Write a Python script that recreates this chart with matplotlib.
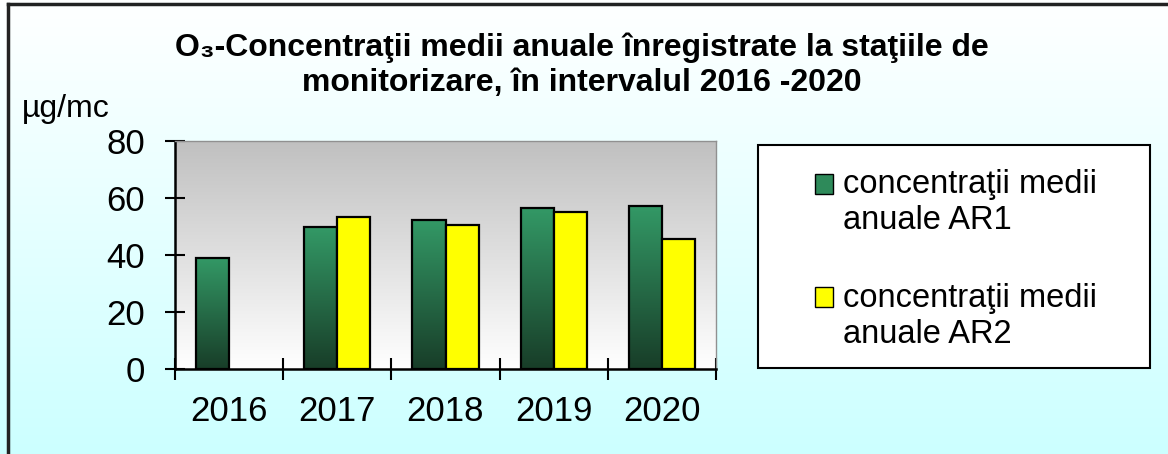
import matplotlib.pyplot as plt
import numpy as np
from matplotlib.colors import LinearSegmentedColormap
from matplotlib.legend_handler import HandlerPatch
from matplotlib.lines import Line2D
from matplotlib.patches import Patch, Rectangle

plt.rcParams['font.family'] = ['Liberation Sans', 'DejaVu Sans']

# date
years = ['2016', '2017', '2018', '2019', '2020']
ar1 = [39.1, 49.8, 52.4, 56.5, 57.3]
ar2 = [np.nan, 53.2, 50.6, 55.1, 45.7]
labels = ['concentraţii medii\nanuale AR1', 'concentraţii medii\nanuale AR2']
title = 'O₃-Concentraţii medii anuale înregistrate la staţiile de\nmonitorizare, în intervalul 2016 -2020'

green_top = '#339966'
green_bot = '#183d28'
yellow = '#ffff00'

fig = plt.figure(figsize=(11.68, 4.54), dpi=100)

# fundal figura (alb -> cyan deschis)
bg = fig.add_axes([0, 0, 1, 1])
bg.imshow(np.linspace(0, 1, 256).reshape(-1, 1), aspect='auto', extent=[0, 1, 0, 1],
          cmap=LinearSegmentedColormap.from_list('bg', ['#ffffff', '#ccffff']))
bg.axis('off')

# chenar figura (doar stanga si sus)
fig.add_artist(Line2D([8 / 1168, 8 / 1168], [0, 1 - 4 / 454], transform=fig.transFigure,
                      color='#222222', lw=2.5))
fig.add_artist(Line2D([8 / 1168, 1], [1 - 4 / 454, 1 - 4 / 454], transform=fig.transFigure,
                      color='#222222', lw=2.5))

ax = fig.add_axes([175 / 1168, 1 - 369 / 454, (716 - 175) / 1168, (369 - 141) / 454])
ax.imshow(np.linspace(0, 1, 256).reshape(-1, 1), aspect='auto', extent=[0, 1, 0, 1],
          transform=ax.transAxes, zorder=0,
          cmap=LinearSegmentedColormap.from_list('pa', ['#c0c0c0', '#ffffff']))

x = np.arange(len(years))
w = 0.305
bars1 = ax.bar(x - w / 2, ar1, w, facecolor='none', edgecolor='black', lw=1.6, zorder=3)
ax.bar(x + w / 2, ar2, w, facecolor=yellow, edgecolor='black', lw=1.6, zorder=3)

gcmap = LinearSegmentedColormap.from_list('gr', [green_top, green_bot])
for b in bars1:
    im = ax.imshow(np.linspace(0, 1, 256).reshape(-1, 1), aspect='auto', cmap=gcmap,
                   extent=[b.get_x(), b.get_x() + b.get_width(), 0, b.get_height()], zorder=2)
    im.set_clip_path(b)

ax.set_xlim(-0.5, len(years) - 0.5)
ax.set_ylim(0, 80)
ax.set_yticks(np.arange(0, 81, 20))
ax.set_xticks(np.arange(-0.5, len(years), 1))
ax.set_xticklabels([])
ax.set_xticks(x, minor=True)
ax.set_xticklabels(years, minor=True)
ax.tick_params(axis='y', direction='inout', length=15, width=1.5, pad=14, labelsize=25)
ax.tick_params(axis='x', which='major', direction='inout', length=16, width=1.5)
ax.tick_params(axis='x', which='minor', length=0, pad=19, labelsize=25)
for s in ['left', 'bottom']:
    ax.spines[s].set_linewidth(1.8)
for s in ['top', 'right']:
    ax.spines[s].set_color('#909090')
    ax.spines[s].set_linewidth(1)

fig.text(582 / 1168, 1 - 65 / 454, title, ha='center', va='center', fontsize=23,
         fontweight='bold', linespacing=1.2)
fig.text(22 / 1168, 1 - 109 / 454, 'µg/mc', ha='left', va='center', fontsize=23)

# caseta legendei
fig.add_artist(Rectangle((758 / 1168, 1 - 368 / 454), 392 / 1168, 223 / 454,
                         transform=fig.transFigure, facecolor='white', edgecolor='black', lw=1.5))


# patratelul legendei aliniat cu primul rand al etichetei
def first_line_patch(legend, orig_handle, xdescent, ydescent, width, height, fontsize):
    return Rectangle((-xdescent, -ydescent + 14), width, height)


handles = [Patch(facecolor='#2e8a5a', edgecolor='black'),
           Patch(facecolor=yellow, edgecolor='black')]
fig.legend(handles, labels, loc='upper left', bbox_to_anchor=(799 / 1168, 1 - 153 / 454),
           frameon=False, fontsize=23.5, handlelength=0.55, handleheight=0.55,
           handletextpad=0.3, labelspacing=1.43, borderpad=0,
           handler_map={Patch: HandlerPatch(patch_func=first_line_patch)})

fig.savefig('out.png', dpi=100)
